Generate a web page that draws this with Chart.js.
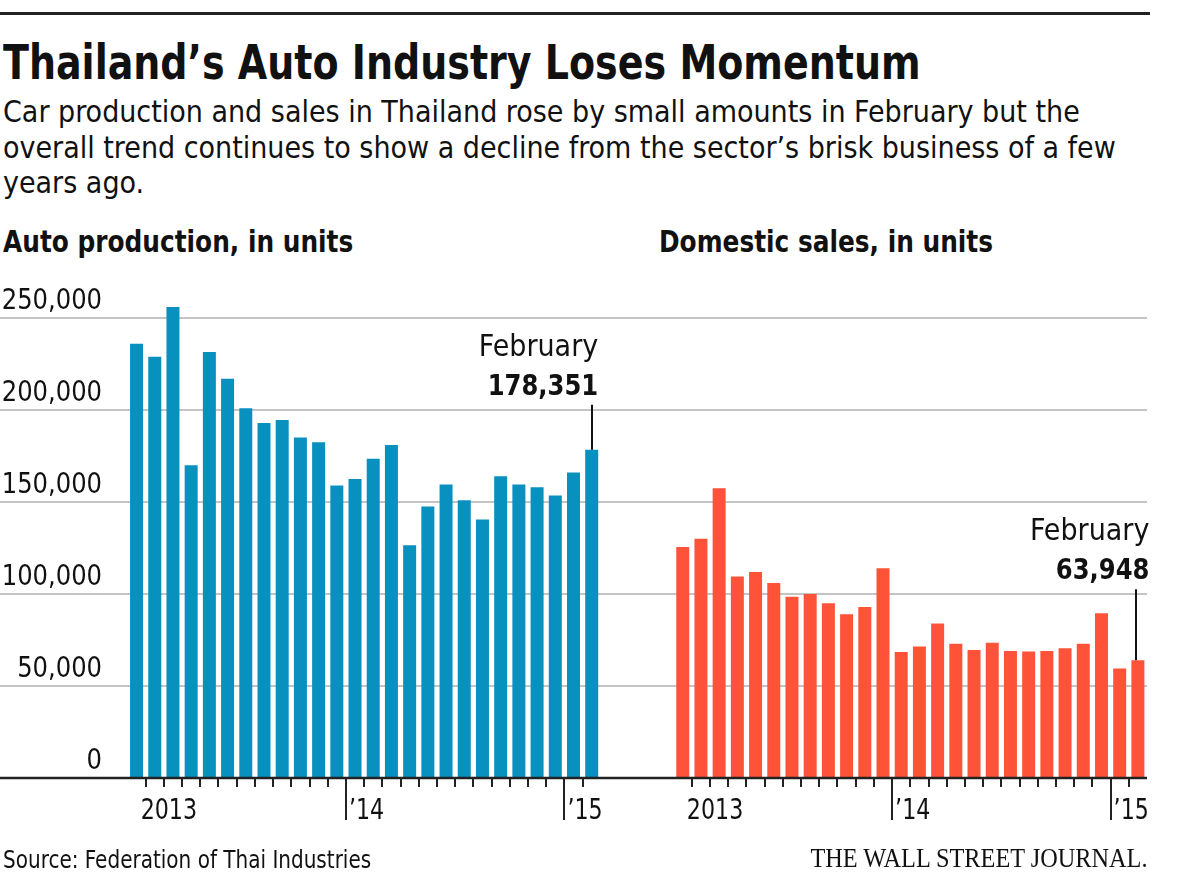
<!DOCTYPE html>
<html>
<head>
<meta charset="utf-8">
<script src="https://cdn.jsdelivr.net/npm/chart.js@4.4.1/dist/chart.umd.min.js"></script>
<style>
  body { margin: 0; width: 1200px; height: 878px; background: #fff; position: relative; overflow: hidden;
         font-family: "Liberation Sans Narrow", "DejaVu Sans Condensed", sans-serif; color: #111; }
  .rule { position: absolute; left: 0; top: 12px; width: 1150px; height: 3px; background: #222; }
  .txt { position: absolute; margin: 0; white-space: nowrap; line-height: 1; transform-origin: left top; }
  #title { left: 3px; top: 38px; font-size: 48px; font-weight: bold; transform: scaleX(0.88); }
  #dek { left: 3px; top: 94px; font-size: 30px; line-height: 35.5px; white-space: normal; width: 1150px; }
  .sub { top: 227px; font-size: 30px; font-weight: bold; transform: scaleX(0.92); }
  #source { left: 3px; top: 847px; font-size: 25px; transform: scaleX(0.89); }
  #logo { right: 53px; top: 845px; font-family: "Liberation Serif", "DejaVu Serif", serif; font-size: 27px;
          transform: scaleX(0.9); transform-origin: right top; }
  #chartBox { position: absolute; left: 0; top: 260px; width: 1200px; height: 618px; }
</style>
</head>
<body>
<div class="rule"></div>
<div id="title" class="txt">Thailand’s Auto Industry Loses Momentum</div>
<div id="dek" class="txt">Car production and sales in Thailand rose by small amounts in February but the overall trend continues to show a decline from the sector’s brisk business of a few years ago.</div>
<div class="txt sub" style="left:3px">Auto production, in units</div>
<div class="txt sub" style="left:659px">Domestic sales, in units</div>
<div id="chartBox"><canvas id="autoChart" width="1200" height="618"></canvas></div>
<div id="source" class="txt">Source: Federation of Thai Industries</div>
<div id="logo" class="txt">THE WALL STREET JOURNAL.</div>

<script>
// Jan 2013 .. Feb 2015
const months = ['Jan 2013','Feb 2013','Mar 2013','Apr 2013','May 2013','Jun 2013','Jul 2013','Aug 2013',
  'Sep 2013','Oct 2013','Nov 2013','Dec 2013','Jan 2014','Feb 2014','Mar 2014','Apr 2014','May 2014',
  'Jun 2014','Jul 2014','Aug 2014','Sep 2014','Oct 2014','Nov 2014','Dec 2014','Jan 2015','Feb 2015'];

const production = [236000, 229000, 256000, 170000, 231500, 217000, 201000, 193000, 194500, 185000,
  182500, 159000, 162500, 173500, 181000, 126500, 147500, 159500, 151000, 140500, 164000, 159500,
  158000, 153500, 166000, 178351];

const sales = [125500, 130000, 157500, 109500, 112000, 106000, 98500, 100000, 95000, 89000, 93000,
  114000, 68500, 71500, 84000, 73000, 69500, 73500, 69000, 68700, 69000, 70500, 73000, 89500,
  59500, 63948];

const yTicks = [0, 50000, 100000, 150000, 200000, 250000];
const yearMarks = [
  { month: 1, text: '2013', long: false },
  { month: 12, text: '’14', long: true },
  { month: 24, text: '’15', long: true }
];
const notes = [
  { series: 0, month: 25, lines: ['February', '178,351'], lift: 45, dx: 0 },
  { series: 1, month: 25, lines: ['February', '63,948'], lift: 71, dx: 5 }
];

// both panels share one category axis: blank slots for the label column and the gap
const LEAD = 7, GAP = 4;
const offsets = [LEAD, LEAD + months.length + GAP];
const total = offsets[1] + months.length;

const labels = [];
const prodData = [];
const salesData = [];
for (let i = 0; i < total; i++) {
  const a = i - offsets[0], b = i - offsets[1];
  labels.push(a >= 0 && a < months.length ? months[a] : (b >= 0 ? months[b] : ''));
  prodData.push(a >= 0 && a < months.length ? production[a] : null);
  salesData.push(b >= 0 ? sales[b] : null);
}

const FONT = '"Liberation Sans Narrow", "DejaVu Sans Condensed", sans-serif';

// the reference face is narrower than anything installed, so squeeze horizontally
function squeezed(ctx, text, x, y, sx) {
  ctx.save();
  ctx.translate(x, y);
  ctx.scale(sx, 1);
  ctx.fillText(text, 0, 0);
  ctx.restore();
}

const overlay = {
  id: 'overlay',
  afterDatasetsDraw(chart) {
    const { ctx, chartArea, scales: { x, y } } = chart;
    const base = y.getPixelForValue(0);
    const half = (x.getPixelForValue(1) - x.getPixelForValue(0)) / 2;
    ctx.save();

    // y labels sit above their grid line
    ctx.fillStyle = '#111';
    ctx.font = '29px ' + FONT;
    ctx.textAlign = 'right';
    ctx.textBaseline = 'alphabetic';
    yTicks.forEach(v => {
      squeezed(ctx, v.toLocaleString('en-US'), 102, y.getPixelForValue(v) - 9, 0.93);
    });

    // baseline
    ctx.strokeStyle = '#222';
    ctx.lineWidth = 2.5;
    ctx.beginPath();
    ctx.moveTo(chartArea.left, base);
    ctx.lineTo(chartArea.right, base);
    ctx.stroke();

    // month ticks and year labels for each panel
    ctx.lineWidth = 2;
    offsets.forEach(off => {
      for (let m = 1; m < months.length; m++) {
        const tx = Math.round(x.getPixelForValue(off + m) - half);
        const isLong = yearMarks.some(ym => ym.month === m && ym.long);
        ctx.beginPath();
        ctx.moveTo(tx, base);
        ctx.lineTo(tx, base + (isLong ? 42 : 9));
        ctx.stroke();
      }
      ctx.textAlign = 'left';
      yearMarks.forEach(ym => {
        const tx = x.getPixelForValue(off + ym.month) - half;
        squeezed(ctx, ym.text, ym.long ? tx + 3 : tx - 5, base + 41, 0.85);
      });
    });

    // callouts on the latest month
    notes.forEach(n => {
      const idx = offsets[n.series] + n.month;
      const bar = chart.getDatasetMeta(n.series).data[idx];
      const top = bar.y;
      const cx = Math.round(bar.x) - (n.dx ? 2 : 0);
      const right = bar.x + bar.width / 2 + n.dx;
      ctx.strokeStyle = '#111';
      ctx.lineWidth = 2;
      ctx.beginPath();
      ctx.moveTo(cx, top);
      ctx.lineTo(cx, top - n.lift);
      ctx.stroke();
      ctx.textAlign = 'right';
      ctx.font = 'bold 29px ' + FONT;
      squeezed(ctx, n.lines[1], right, top - n.lift - 10, 0.93);
      ctx.font = '30px ' + FONT;
      squeezed(ctx, n.lines[0], right, top - n.lift - 49, 1.0);
    });

    ctx.restore();
  }
};

new Chart(document.getElementById('autoChart').getContext('2d'), {
  type: 'bar',
  data: {
    labels: labels,
    datasets: [
      { label: 'Auto production', data: prodData, backgroundColor: '#0891bf', grouped: false,
        barPercentage: 0.714, categoryPercentage: 1 },
      { label: 'Domestic sales', data: salesData, backgroundColor: '#ff5339', grouped: false,
        barPercentage: 0.714, categoryPercentage: 1 }
    ]
  },
  options: {
    responsive: false,
    animation: false,
    layout: { padding: { top: 21.2, bottom: 100, left: 0, right: 53 } },
    scales: {
      x: { display: false },
      y: {
        min: 0,
        max: 270000,
        afterBuildTicks: scale => { scale.ticks = yTicks.map(v => ({ value: v })); },
        ticks: { display: false },
        border: { display: false },
        grid: {
          drawTicks: false,
          lineWidth: 2,
          color: c => (c.tick && c.tick.value === 0 ? 'rgba(0,0,0,0)' : '#c4c4c4')
        }
      }
    },
    plugins: { legend: { display: false }, tooltip: { enabled: false } }
  },
  plugins: [overlay]
});
</script>
</body>
</html>
